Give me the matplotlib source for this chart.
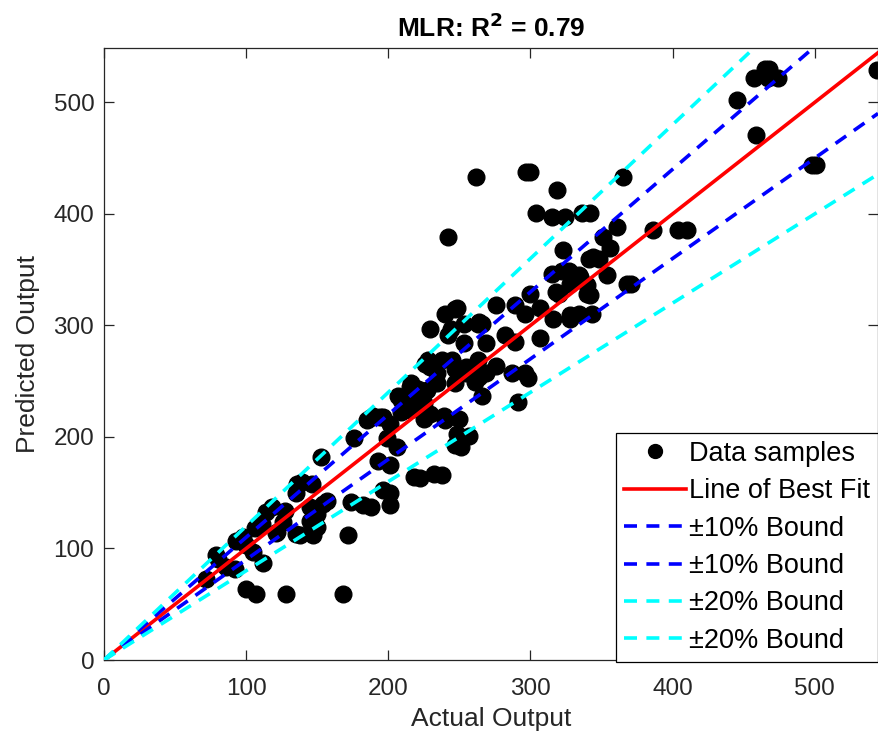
import matplotlib
matplotlib.use("Agg")
import matplotlib.pyplot as plt
import numpy as np

plt.rcParams['font.family'] = ['Liberation Sans', 'DejaVu Sans']

actual = [72, 79, 80, 86, 92, 93, 98, 100, 100, 105, 106, 107, 111, 112, 114, 118, 121, 122,
          126, 127, 128, 135, 135, 136, 138, 139, 145, 145, 146, 147, 147, 150, 150, 153, 154,
          157, 168, 172, 174, 182, 188, 196, 201, 201, 176, 185, 187, 189, 193, 194, 196, 199,
          201, 201, 206, 207, 209, 209, 215, 215, 216, 218, 221, 225, 225, 226, 227, 229, 229,
          228, 229, 234, 234, 238, 239, 240, 240, 242, 242, 244, 245, 247, 247, 247, 248, 250,
          253, 253, 255, 255, 257, 260, 261, 262, 263, 263, 264, 266, 266, 269, 269, 276, 276,
          282, 289, 289, 287, 291, 296, 296, 297, 300, 298, 300, 304, 307, 307, 315, 315, 316,
          318, 319, 320, 322, 323, 324, 327, 328, 328, 328, 334, 335, 334, 336, 340, 340, 341,
          342, 342, 343, 344, 348, 351, 354, 356, 361, 365, 368, 371, 386, 404, 410, 445, 457,
          459, 465, 467, 468, 474, 498, 501, 544, 218, 222, 232, 238, 247, 251, 250, 248, 264]
predicted = [73, 94, 91, 83, 82, 107, 110, 103, 64, 97, 118, 59, 122, 87, 133, 137, 114, 115,
             124, 134, 59, 113, 150, 158, 112, 160, 125, 137, 158, 121, 112, 131, 119, 182, 140,
             143, 59, 112, 142, 139, 137, 152, 150, 139, 199, 215, 217, 219, 178, 218, 218, 199,
             212, 175, 191, 237, 222, 233, 224, 245, 248, 236, 243, 230, 216, 265, 242, 221, 297,
             269, 263, 248, 257, 269, 219, 215, 310, 291, 379, 297, 269, 315, 261, 248, 203, 216,
             301, 284, 263, 257, 201, 257, 249, 433, 301, 269, 254, 237, 301, 284, 257, 318, 264,
             291, 318, 285, 257, 231, 310, 257, 438, 438, 253, 328, 401, 316, 289, 397, 346, 306,
             330, 421, 328, 349, 368, 397, 349, 337, 309, 306, 310, 343, 345, 401, 336, 328, 360,
             401, 327, 310, 361, 360, 379, 345, 369, 388, 433, 337, 337, 386, 386, 386, 502, 522,
             471, 530, 522, 530, 522, 444, 444, 529, 164, 163, 167, 166, 193, 191, 197, 316, 303]

xmax = 544.5
ymax = 549
fit_x = [0, xmax]
bounds = [1.1, 0.9, 1.2, 0.8]

fig = plt.figure(figsize=(8.79, 7.42), dpi=100)
ax = fig.add_axes([0.1183, 0.1105, 0.8806, 0.8252])

dark = (0.15, 0.15, 0.15)
ax.plot(actual, predicted, 'o', color='black', markersize=12, linestyle='none',
        label='Data samples', zorder=2)
ax.plot(fit_x, fit_x, '-', color='red', linewidth=2.6, label='Line of Best Fit', zorder=3)
ax.plot(fit_x, [bounds[0] * v for v in fit_x], '--', color='blue', linewidth=2.6,
        dashes=(3.6, 2.6), label='±10% Bound', zorder=3)
ax.plot(fit_x, [bounds[1] * v for v in fit_x], '--', color='blue', linewidth=2.6,
        dashes=(3.6, 2.6), label='±10% Bound', zorder=3)
ax.plot(fit_x, [bounds[2] * v for v in fit_x], '--', color='cyan', linewidth=2.6,
        dashes=(3.6, 2.6), label='±20% Bound', zorder=3)
ax.plot(fit_x, [bounds[3] * v for v in fit_x], '--', color='cyan', linewidth=2.6,
        dashes=(3.6, 2.6), label='±20% Bound', zorder=3)

ax.set_xlim(0, xmax)
ax.set_ylim(0, ymax)
ax.set_xticks([0, 100, 200, 300, 400, 500])
ax.set_yticks([0, 100, 200, 300, 400, 500])
ax.tick_params(direction='in', length=7, width=0.9, top=True, right=True,
               labelsize=17.5, colors=dark)
ax.tick_params(axis='x', pad=13)
ax.tick_params(axis='y', pad=7)
for s in ax.spines.values():
    s.set_color(dark)
    s.set_linewidth(0.9)

ax.set_xlabel('Actual Output', fontsize=19, color=dark, labelpad=5)
ax.set_ylabel('Predicted Output', fontsize=19, color=dark, labelpad=10)
ax.set_title('MLR: R$^\\mathbf{2}$ = 0.79', fontsize=19, fontweight='bold', pad=8)

leg = ax.legend(loc='upper right', fontsize=19.5, frameon=True, fancybox=False,
                edgecolor='black', framealpha=1, handlelength=2.3, handletextpad=0.1,
                labelspacing=0.42, borderpad=0.3, borderaxespad=0.0,
                bbox_to_anchor=(1.0, 0.371))
leg.get_frame().set_linewidth(0.9)
for h in leg.get_lines():
    if h.get_marker() == 'o':
        h.set_markersize(10)

fig.savefig('out.png', dpi=100)
